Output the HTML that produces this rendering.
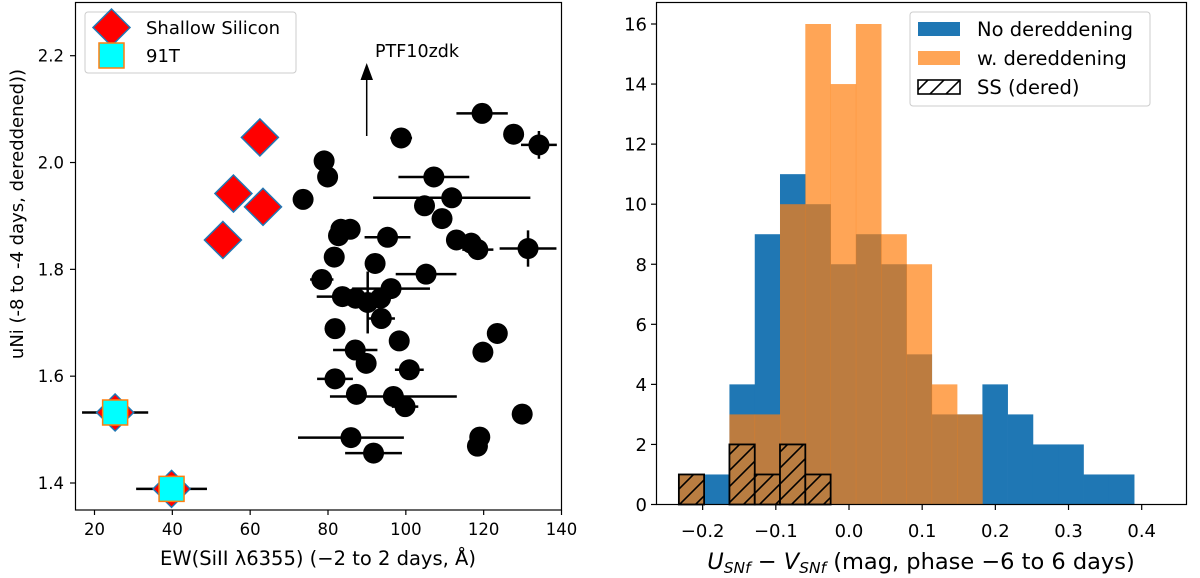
<!DOCTYPE html>
<html><head><meta charset="utf-8"><style>
body{margin:0;background:#fff;}
svg{display:block;font-family:"DejaVu Sans","Liberation Sans",sans-serif;}
</style></head><body>
<svg id="fig" width="1200" height="578" xmlns="http://www.w3.org/2000/svg">
<defs>
<pattern id="hatch" patternUnits="userSpaceOnUse" width="16" height="16">
<path d="M-4,4 L4,-4 M0,16 L16,0 M12,20 L20,12" stroke="#000" stroke-width="1.6"/>
</pattern>
</defs>
<g id="left"></g>
<g id="right"></g>
</svg>
<script>
// ---------- scatter data ----------
const ewX = [119.6,127.7,134.2,98.8,79.0,79.9,73.6,107.2,111.8,104.8,109.3,83.3,85.7,82.7,95.3,113,116.8,118.5,131.4,81.6,92.1,105.2,78.4,96.2,83.7,87.1,90.2,93.5,93.7,81.8,98.3,123.5,119.8,87,89.8,100.9,81.8,87.3,96.8,99.8,129.9,119,118.4,85.9,91.7];
const uNiY = [2.092,2.053,2.033,2.046,2.003,1.973,1.931,1.973,1.934,1.919,1.895,1.875,1.875,1.863,1.860,1.855,1.849,1.837,1.839,1.823,1.811,1.791,1.781,1.764,1.749,1.746,1.738,1.746,1.708,1.689,1.666,1.680,1.645,1.649,1.624,1.612,1.595,1.566,1.562,1.543,1.529,1.486,1.469,1.485,1.456];
const ewErr = [6.6,0,4.6,2.8,0,0,0,9.1,20.2,0,0,0,0,1.5,5.9,0,0,4,7.3,0,0,7.8,3,10,6.6,0,0,0,3.5,0,0,0,0,5.7,0,3.7,4.6,0,16.3,3.4,0,0,0,13.6,7.3];
const uNiErr = [0,0,0.026,0,0,0,0,0,0,0,0,0,0,0,0,0,0,0,0.034,0,0,0,0,0.012,0.01,0,0.058,0,0,0,0,0,0,0,0,0,0,0,0,0,0,0,0.01,0,0];
const ssX = [62.5,55.7,63.3,53,25.3,39.8];
const ssY = [2.047,1.942,1.917,1.855,1.532,1.389];
const t91X = [25.3,39.8];
const t91Y = [1.532,1.389];
const t91Err = [8.5,9.1];
const lxTicks = [20,40,60,80,100,120,140];
const lyTicks = [1.4,1.6,1.8,2.0,2.2];
// ---------- histogram data ----------
const binEdges = [-0.2325,-0.198,-0.1634,-0.1288,-0.0943,-0.0597,-0.0251,0.0094,0.044,0.0786,0.1131,0.1477,0.1823,0.2168,0.2514,0.286,0.3205,0.3551,0.3897];
const noDered = [0,1,4,9,11,10,8,9,8,5,3,3,4,3,2,2,1,1];
const wDered = [1,0,3,3,10,16,14,16,9,8,4,3,0,0,0,0,0,0];
const ssDered = [1,0,2,1,2,1,0,0,0,0,0,0,0,0,0,0,0,0];
const rxTicks = [-0.2,-0.1,0.0,0.1,0.2,0.3,0.4];
const ryTicks = [0,2,4,6,8,10,12,14,16];

const NS="http://www.w3.org/2000/svg";
function mk(parent,tag,attrs,text){const e=document.createElementNS(NS,tag);for(const k in attrs)e.setAttribute(k,attrs[k]);if(text!==undefined)e.textContent=text;parent.appendChild(e);return e;}

// ---------- left panel ----------
const L=document.getElementById('left');
const lx=v=>94.5+(v-20)*(561.5-94.5)/120;
const ly=v=>55.7+(2.2-v)*(483-55.7)/0.8;
for(let i=0;i<ewX.length;i++){
  const cx=lx(ewX[i]),cy=ly(uNiY[i]);
  if(ewErr[i]>0){const e=mk(L,'line',{x1:lx(ewX[i]-ewErr[i]),x2:lx(ewX[i]+ewErr[i]),y1:cy,y2:cy,stroke:'#000','stroke-width':2.5});
  
  }
  if(uNiErr[i]>0){const e=mk(L,'line',{x1:cx,x2:cx,y1:ly(uNiY[i]-uNiErr[i]),y2:ly(uNiY[i]+uNiErr[i]),stroke:'#000','stroke-width':2.5});
  
  }
}
for(let i=0;i<ewX.length;i++){
  const c=mk(L,'circle',{cx:lx(ewX[i]),cy:ly(uNiY[i]),r:10.5,fill:'#000'});
  
  
}
for(let i=0;i<t91X.length;i++){
  const cy=ly(t91Y[i]);
  const e=mk(L,'line',{x1:lx(t91X[i]-t91Err[i]),x2:lx(t91X[i]+t91Err[i]),y1:cy,y2:cy,stroke:'#000','stroke-width':2.5});
  
  
}
for(let i=0;i<ssX.length;i++){
  const cx=lx(ssX[i]),cy=ly(ssY[i]),d=18.5;
  const p=mk(L,'polygon',{points:`${cx},${cy-d} ${cx+d},${cy} ${cx},${cy+d} ${cx-d},${cy}`,fill:'#ff0000',stroke:'#1f77b4','stroke-width':1.5});
  
  
}
for(let i=0;i<t91X.length;i++){
  const cx=lx(t91X[i]),cy=ly(t91Y[i]);
  const r=mk(L,'rect',{x:cx-12.5,y:cy-12.5,width:25,height:25,fill:'#00ffff',stroke:'#ff7f0e','stroke-width':1.5});
  
  
}
mk(L,'rect',{x:75.5,y:2.5,width:486,height:507.5,fill:'none',stroke:'#000','stroke-width':1.2,});
lxTicks.forEach(t=>{const x=lx(t);mk(L,'line',{x1:x,x2:x,y1:510,y2:515,stroke:'#000','stroke-width':1.2});
  mk(L,'text',{x:x,y:535,'font-size':16.5,'text-anchor':'middle',},String(t));});
lyTicks.forEach(t=>{const y=ly(t);mk(L,'line',{x1:70,x2:75.5,y1:y,y2:y,stroke:'#000','stroke-width':1.2});
  mk(L,'text',{x:64,y:y+6,'font-size':16.5,'text-anchor':'end',},t.toFixed(1));});
mk(L,'text',{x:318,y:565,'font-size':19.5,'text-anchor':'middle',},'EW(SiII \u03bb6355) (\u22122 to 2 days, \u00c5)');
mk(L,'text',{x:0,y:0,'font-size':18,'text-anchor':'middle',transform:'translate(23,214) rotate(-90)',},'uNi (-8 to -4 days, dereddened))');
// arrow annotation
mk(L,'line',{x1:366.7,x2:366.7,y1:136,y2:76,stroke:'#000','stroke-width':1.5,});
mk(L,'polygon',{points:'366.7,63 360.5,80 373,80',fill:'#000'});
mk(L,'text',{x:375,y:57,'font-size':17.5,},'PTF10zdk');
// legend
const lg=mk(L,'g',{});
mk(lg,'rect',{x:85,y:12,width:211,height:61,rx:3,fill:'#fff',stroke:'#ccc','stroke-width':1});
mk(lg,'polygon',{points:'111.5,9 130,27.5 111.5,46 93,27.5',fill:'#ff0000',stroke:'#1f77b4','stroke-width':1.5});
mk(lg,'rect',{x:99,y:43,width:25,height:25,fill:'#00ffff',stroke:'#ff7f0e','stroke-width':1.5});
mk(lg,'text',{x:146,y:34,'font-size':18},'Shallow Silicon');
mk(lg,'text',{x:146,y:62,'font-size':18},'91T');

// ---------- right panel ----------
const R=document.getElementById('right');
const rx=v=>849+v*(1141.7-849)/0.4;
const ry=v=>504.5-v*(504.5-24)/16;
for(let i=0;i<noDered.length;i++){
  if(noDered[i]<=0)continue;
  const x0=rx(binEdges[i]),x1=rx(binEdges[i+1]);
  const b=mk(R,'rect',{x:x0,y:ry(noDered[i]),width:x1-x0+0.3,height:ry(0)-ry(noDered[i]),fill:'#1f77b4'});
  
  
}
for(let i=0;i<wDered.length;i++){
  if(wDered[i]<=0)continue;
  const x0=rx(binEdges[i]),x1=rx(binEdges[i+1]);
  const b=mk(R,'rect',{x:x0,y:ry(wDered[i]),width:x1-x0+0.3,height:ry(0)-ry(wDered[i]),fill:'#ff7f0e','fill-opacity':0.7});
  
  
}
for(let i=0;i<ssDered.length;i++){
  if(ssDered[i]<=0)continue;
  const x0=rx(binEdges[i]),x1=rx(binEdges[i+1]);
  const bg=mk(R,'rect',{x:x0,y:ry(ssDered[i]),width:x1-x0,height:ry(0)-ry(ssDered[i]),fill:'#b97d41'});
  
  
  const b=mk(R,'rect',{x:x0,y:ry(ssDered[i]),width:x1-x0,height:ry(0)-ry(ssDered[i]),fill:'url(#hatch)',stroke:'#000','stroke-width':1.8});
  
  
}
mk(R,'rect',{x:656.5,y:2.5,width:530,height:502,fill:'none',stroke:'#000','stroke-width':1.2,});
rxTicks.forEach(t=>{const x=rx(t);mk(R,'line',{x1:x,x2:x,y1:504.5,y2:510,stroke:'#000','stroke-width':1.2});
  mk(R,'text',{x:x,y:537,'font-size':18,'text-anchor':'middle',},(t<0?'\u2212':'')+Math.abs(t).toFixed(1));});
ryTicks.forEach(t=>{const y=ry(t);mk(R,'line',{x1:651,x2:656.5,y1:y,y2:y,stroke:'#000','stroke-width':1.2});
  mk(R,'text',{x:647,y:y+6.5,'font-size':18,'text-anchor':'end',},String(t));});
const xt=mk(R,'text',{x:921,y:569,'font-size':22.5,'text-anchor':'middle',});
xt.innerHTML='<tspan font-style="italic">U</tspan><tspan font-style="italic" font-size="15.5" dy="4">SNf</tspan><tspan dy="-4"> \u2212 </tspan><tspan font-style="italic">V</tspan><tspan font-style="italic" font-size="15.5" dy="4">SNf</tspan><tspan dy="-4"> (mag, phase \u22126 to 6 days)</tspan>';
const rl=mk(R,'g',{});
mk(rl,'rect',{x:910,y:12,width:240,height:94,rx:3,fill:'#fff','fill-opacity':0.8,stroke:'#ccc','stroke-width':1});
mk(rl,'rect',{x:918,y:22,width:42,height:14,fill:'#1f77b4'});
mk(rl,'rect',{x:918,y:51,width:42,height:14,fill:'#ff7f0e','fill-opacity':0.7});
mk(rl,'rect',{x:918,y:80,width:42,height:14,fill:'url(#hatch)',stroke:'#000','stroke-width':1.6});
mk(rl,'text',{x:977,y:36,'font-size':19.5},'No dereddening');
mk(rl,'text',{x:977,y:65,'font-size':19.5},'w. dereddening');
mk(rl,'text',{x:977,y:94,'font-size':19.5},'SS (dered)');
</script>
</body></html>
